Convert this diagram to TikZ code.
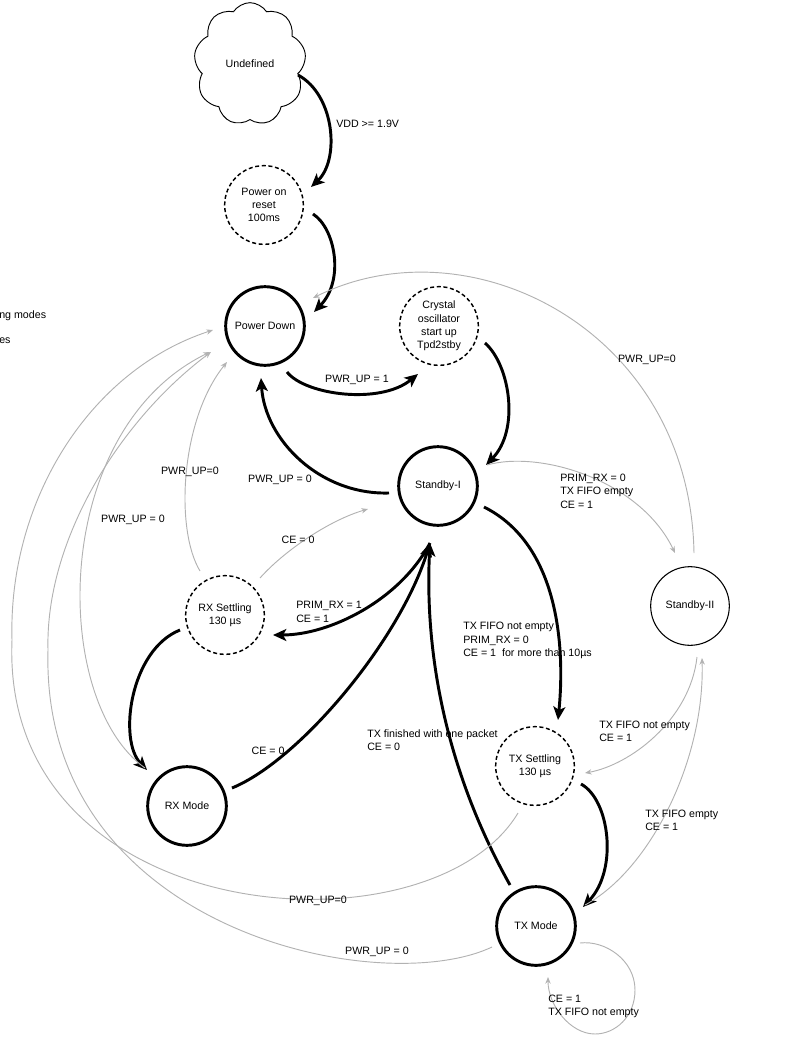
\documentclass[tikz,border=0pt]{standalone}
\usepackage{fontspec}
\setmainfont{Liberation Sans}
\usetikzlibrary{arrows.meta,shapes.symbols,calc}
\newcommand\labfont{\fontsize{8}{10}\selectfont}
\tikzset{
  st/.style={circle, draw, minimum size=59pt, inner sep=0pt, align=center, font=\labfont},
  mainst/.style={st, line width=2.2pt},
  transst/.style={st, line width=1.1pt, dash pattern=on 3pt off 2pt},
  thinst/.style={st, line width=0.8pt},
  bk/.style={line width=2.2pt, -{Stealth[length=10pt,width=9pt,inset=2.5pt]}},
  gr/.style={draw=black!30, line width=0.7pt, -{Stealth[length=5pt,width=4pt]}},
  lbl/.style={inner sep=0pt, align=left, font=\labfont, anchor=west},
  clbl/.style={inner sep=0pt, align=center, font=\labfont},
}
\begin{document}
\begin{tikzpicture}[x=0.75pt,y=-0.75pt]
\path[use as bounding box] (0,0) rectangle (786,1039);

% states
\node[cloud, draw, cloud puffs=9, cloud puff arc=115, aspect=0.9, minimum width=84pt, minimum height=92pt, line width=0.7pt, font=\labfont] (und) at (250,64) {Undefined};
\node[transst] (por) at (264,205) {Power on\\reset\\100ms};
\node[mainst] (pd) at (265,326) {Power Down};
\node[transst] (xo) at (439,326) {Crystal\\oscillator\\start up\\Tpd2stby};
\node[mainst] (sb1) at (438,486) {Standby-I};
\node[thinst] (sb2) at (690,606) {Standby-II};
\node[transst] (rxs) at (225,615) {RX Settling\\130 µs};
\node[mainst] (rxm) at (187,806) {RX Mode};
\node[transst] (txs) at (535,766) {TX Settling\\130 µs};
\node[mainst] (txm) at (536,926) {TX Mode};

% black transitions
\draw[bk] ($(und.center)+(48,11)$) .. controls (335,95) and (340,160) .. ($(por.center)+(47,-18)$);
\draw[bk] ($(por.center)+(49,9)$) .. controls (335,228) and (345,280) .. ($(pd.center)+(49,-14)$);
\draw[bk] ($(pd.center)+(22,46)$) .. controls (305,395) and (380,405) .. ($(xo.center)+(-21,48)$);
\draw[bk] ($(xo.center)+(46,17)$) .. controls (510,365) and (520,430) .. ($(sb1.center)+(48,-21)$);
\draw[bk] ($(sb1.center)+(-49,7)$) .. controls (320,495) and (265,440) .. ($(pd.center)+(-4,52)$);
\draw[bk] ($(sb1.center)+(-8,57)$) .. controls (400,600) and (330,635) .. ($(rxs.center)+(48,20)$);
\draw[bk] ($(rxs.center)+(-45,15)$) .. controls (130,650) and (118,740) .. ($(rxm.center)+(-40,-36)$);
\draw[bk] ($(rxm.center)+(45,-18)$) .. controls (300,760) and (400,640) .. ($(sb1.center)+(-8,57)$);
\draw[bk] ($(txm.center)+(-26,-41)$) .. controls (440,760) and (425,640) .. ($(sb1.center)+(-8,57)$);
\draw[bk] ($(sb1.center)+(46,21)$) .. controls (560,545) and (565,650) .. ($(txs.center)+(23,-46)$);
\draw[bk] ($(txs.center)+(46,18)$) .. controls (610,800) and (618,870) .. ($(txm.center)+(47,-19)$);

% grey transitions
\draw[gr] ($(sb2.center)+(4,-53)$) .. controls (690,330) and (470,220) .. ($(pd.center)+(48,-28)$);
\draw[gr] ($(sb1.center)+(49,-21)$) .. controls (540,450) and (640,480) .. ($(sb2.center)+(-15,-53)$);
\draw[gr] ($(rxs.center)+(-25,-44)$) .. controls (175,530) and (180,420) .. ($(pd.center)+(-38,36)$);
\draw[gr] ($(rxs.center)+(35,-37)$) .. controls (285,550) and (330,520) .. ($(sb1.center)+(-70,23)$);
\draw[gr] ($(rxm.center)+(-42,-38)$) .. controls (50,700) and (50,430) .. ($(pd.center)+(-55,26)$);
\draw[gr] ($(txs.center)+(-17,47)$) .. controls (430,960) and (0,930) .. (12,640) .. controls (8,500) and (90,370) .. ($(pd.center)+(-52,4)$);
\draw[gr] ($(txm.center)+(-44,21)$) .. controls (380,1000) and (40,930) .. (48,650) .. controls (45,540) and (120,420) .. ($(pd.center)+(-54,26)$);
\draw[gr] ($(sb2.center)+(7,51)$) .. controls (690,720) and (630,765) .. ($(txs.center)+(50,7)$);
\draw[gr] ($(txm.center)+(49,-21)$) .. controls (650,870) and (705,760) .. ($(sb2.center)+(12,52)$);
\draw[gr] ($(txm.center)+(44,17)$) .. controls (605,940) and (635,960) .. (635,990) .. controls (635,1017) and (615,1034) .. (595,1034) .. controls (570,1034) and (548,1005) .. ($(txm.center)+(12,51)$);

% labels
\node[lbl] (l1) at (336,124) {VDD >= 1.9V};
\node[clbl] (l2) at (357,380) {PWR\_UP = 1};
\node[clbl] (l3) at (280,480) {PWR\_UP = 0};
\node[clbl] (l4) at (647,360) {PWR\_UP=0};
\node[lbl] (l5) at (560,491) {PRIM\_RX = 0\\TX FIFO empty\\CE = 1};
\node[clbl] (l6) at (190,472) {PWR\_UP=0};
\node[clbl] (l7) at (133,520) {PWR\_UP = 0};
\node[clbl] (l8) at (298,540) {CE = 0};
\node[lbl] (l9) at (296,612) {PRIM\_RX = 1\\CE = 1};
\node[lbl] (l10) at (463,640.5) {TX FIFO not empty\\PRIM\_RX = 0\\CE = 1\ \ for more than 10µs};
\node[clbl] (l11) at (268,751) {CE = 0};
\node[lbl] (l12) at (367,740.5) {TX finished with one packet\\CE = 0};
\node[lbl] (l13) at (599,731) {TX FIFO not empty\\CE = 1};
\node[lbl] (l14) at (645,820.5) {TX FIFO empty\\CE = 1};
\node[clbl] (l15) at (318,901) {PWR\_UP=0};
\node[clbl] (l16) at (377,952) {PWR\_UP = 0};
\node[lbl] (l17) at (548,1006.5) {CE = 1\\TX FIFO not empty};
\node[lbl] (l18) at (-1,316) {ng modes};
\node[lbl] (l19) at (-1,341) {es};
\end{tikzpicture}
\end{document}
